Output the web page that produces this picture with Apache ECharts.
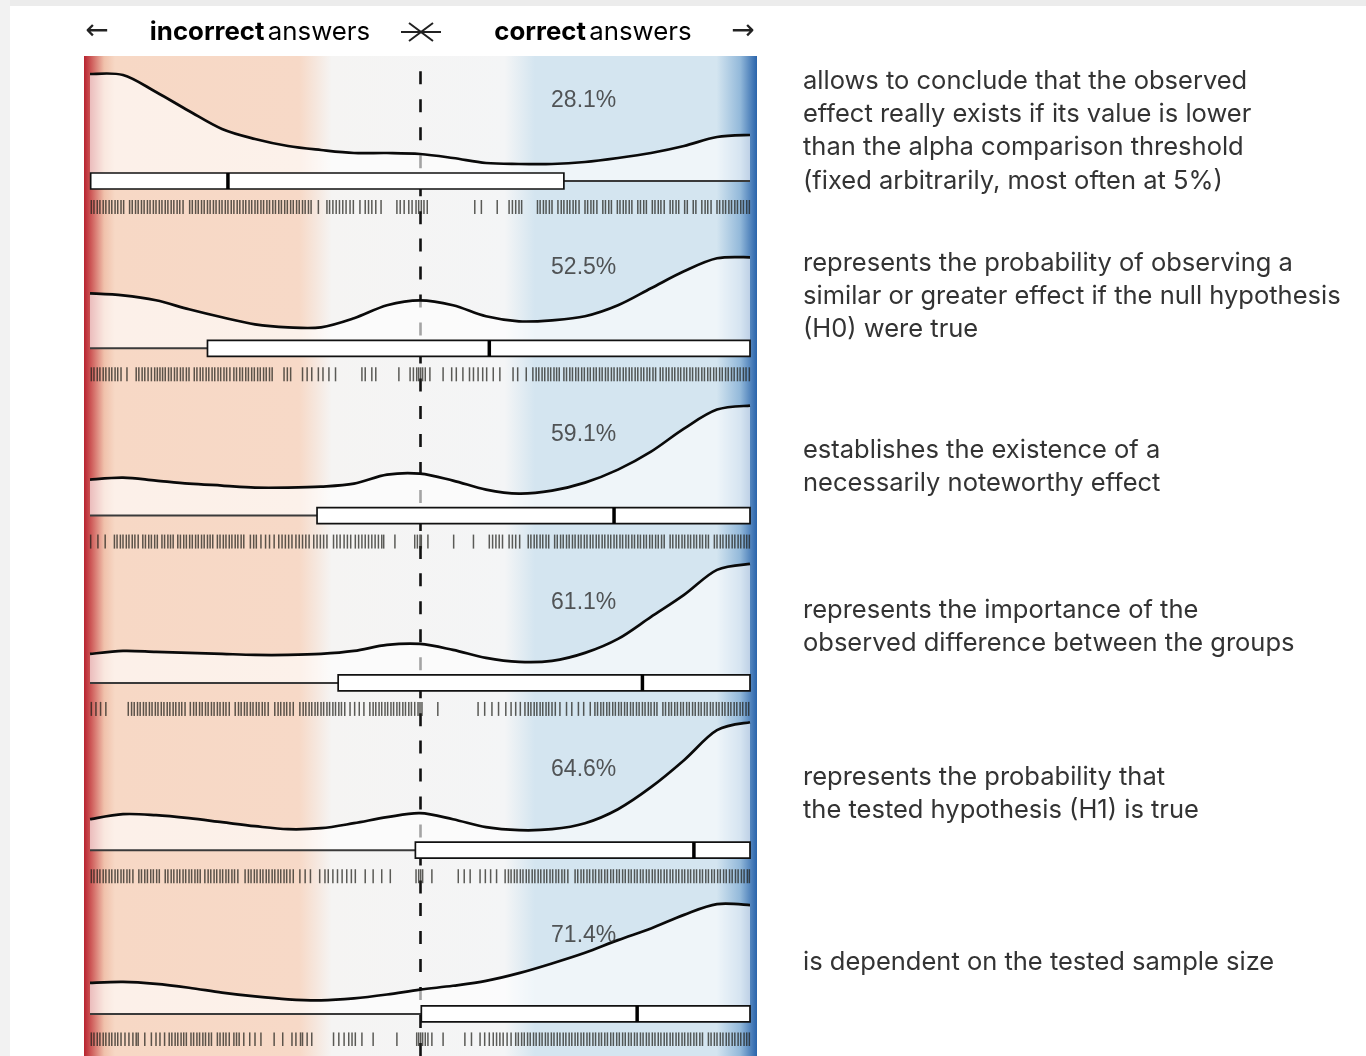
<!DOCTYPE html>
<html>
<head>
<meta charset="utf-8">
<script src="https://cdn.jsdelivr.net/npm/echarts@6/dist/echarts.min.js"></script>
<style>
  html, body { margin: 0; padding: 0; background: #fff; }
  #chart { width: 1366px; height: 1056px; }
</style>
</head>
<body>
<div id="chart"></div>
<script>
// positions along the answer scale (0 = far left / incorrect, 100 = far right / correct)
const densityX = [0, 5, 10, 15, 20, 25, 30, 35, 40, 45, 50, 55, 60, 65, 70, 75, 80, 85, 90, 95, 100];

// density heights, one array per statement
const density1 = [107, 106, 89, 70, 52, 42, 35, 31, 28, 28, 27, 23, 18, 17, 17, 19, 23, 28, 35, 44, 46];
const density2 = [55, 53, 48, 39, 31, 24, 21, 21, 30, 43, 48, 43, 32, 27, 28, 32, 43, 60, 77, 90, 91];
const density3 = [36, 38, 35, 32, 30, 28, 28, 29, 32, 41, 42, 35, 26, 22, 25, 33, 46, 64, 87, 106, 110];
const density4 = [29, 32, 31, 30, 29, 28, 28, 29, 32, 38, 39, 33, 25, 21, 22, 30, 44, 66, 88, 113, 119];
const density5 = [31, 36, 35, 32, 28, 24, 21, 22, 27, 33, 37, 31, 23, 20, 21, 27, 41, 63, 90, 120, 128];
const density6 = [32, 33, 31, 27, 22, 18, 15, 14, 16, 20, 25, 29, 34, 42, 52, 63, 76, 88, 102, 113, 112];

// box plot stats: [min, q1, median, q3, max]
const box1 = [0, 0.1, 20.9, 71.8, 100];
const box2 = [0, 17.8, 60.5, 100, 100];
const box3 = [0, 34.4, 79.4, 100, 100];
const box4 = [0, 37.6, 83.7, 100, 100];
const box5 = [0, 49.3, 91.5, 100, 100];
const box6 = [0, 50.2, 82.9, 100, 100];

// individual answers (rug)
const rug1 = [0.2,0.6,1.1,1.5,2.0,2.4,2.9,3.3,3.8,4.2,4.7,5.1,
  6.0,6.4,6.9,7.3,7.8,8.2,8.7,9.1,9.6,10.0,10.5,10.9,11.4,11.8,12.3,12.7,13.2,13.6,14.1,
  15.1,15.5,16.0,16.4,16.9,17.3,17.8,18.2,18.7,19.1,19.6,20.0,20.5,20.9,21.4,21.8,22.3,22.7,23.2,23.6,24.1,24.5,25.0,25.4,25.9,26.3,26.8,27.2,27.7,28.1,28.6,29.0,29.5,29.9,30.4,30.8,31.3,31.7,32.2,32.6,33.1,33.5,
  34.6,35.9,36.3,36.8,37.3,37.8,38.3,38.8,39.4,39.9,40.9,41.7,42.2,42.7,43.3,44.1,
  46.5,47.0,47.6,48.3,48.8,49.4,49.8,50.2,50.6,51.1,
  58.3,59.3,61.7,63.5,64.0,64.5,65.0,65.4,
  67.8,68.2,68.7,69.1,69.6,70.0,70.9,71.4,71.8,72.3,72.7,73.2,73.6,74.1,75.0,75.4,75.9,76.3,76.8,77.7,78.1,78.6,79.0,
  79.9,80.3,80.8,81.2,81.7,82.1,83.0,83.4,83.9,84.3,85.2,85.6,86.1,86.5,87.0,87.9,88.3,88.8,89.2,90.1,90.5,91.4,91.8,
  92.7,93.2,93.6,94.1,95.0,95.4,95.9,96.3,96.8,97.2,97.7,98.1,98.6,99.0,99.5,99.9];
const rug2 = [0.2,0.6,1.1,1.5,2.0,2.4,2.9,3.3,3.8,4.2,4.7,5.6,
  7.0,7.4,7.9,8.3,8.8,9.3,9.8,10.2,10.6,11.0,11.4,11.9,12.3,12.8,13.2,13.7,14.1,14.6,15.0,
  15.8,16.2,16.7,17.1,17.6,18.0,18.5,18.9,19.4,19.8,20.3,20.7,21.2,
  21.8,22.2,22.7,23.1,23.6,24.0,24.5,24.9,25.4,25.8,26.3,26.7,27.2,27.6,
  29.4,29.9,30.4,32.2,32.9,33.6,34.6,35.3,36.2,37.2,
  41.2,41.7,42.7,43.3,
  46.8,48.5,49.0,49.5,49.8,50.1,50.4,50.8,51.5,
  53.5,54.8,55.5,56.5,57.5,58.1,58.8,59.5,60.1,61.1,62.1,64.1,64.8,66.1,
  67.1,67.6,68.0,68.5,68.9,69.4,69.8,70.3,70.7,71.1,
  71.8,72.2,72.7,73.1,73.6,74.0,74.5,74.9,75.4,75.8,76.3,76.7,77.2,77.6,78.1,78.5,79.0,79.4,79.9,80.3,80.8,81.2,81.7,82.1,82.6,83.0,83.5,83.9,84.4,84.8,85.3,85.7,
  86.4,86.8,87.3,87.7,88.2,88.6,89.1,89.5,90.0,90.4,90.9,91.3,91.8,92.2,92.7,93.1,93.6,94.0,94.5,94.9,95.4,95.8,96.3,96.7,97.2,97.6,98.1,98.5,99.0,99.4,99.9];
const rug3 = [0.1,1.2,2.3,3.7,4.1,4.6,5.0,5.5,5.9,6.4,6.8,7.3,
  8.0,8.4,8.9,9.3,9.8,10.2,10.9,11.3,11.8,12.2,12.6,
  13.3,13.7,14.2,14.6,15.1,15.5,16.0,16.4,16.9,17.3,17.8,18.2,18.6,
  19.3,19.7,20.2,20.6,21.1,21.5,22.0,22.4,22.9,23.3,
  24.3,24.8,25.2,25.9,26.6,27.2,27.9,28.6,29.1,29.6,30.1,30.6,31.2,31.7,32.2,32.7,33.2,33.9,34.4,34.9,35.4,35.9,
  36.9,37.4,37.9,38.5,39.0,39.5,40.2,40.7,41.2,41.7,42.2,42.7,43.2,43.7,44.2,44.5,
  46.2,49.2,49.6,50.0,50.2,51.2,55.1,58.1,60.5,61.0,61.5,62.0,62.5,63.5,64.0,64.5,65.1,
  66.4,66.8,67.3,67.7,68.2,68.6,69.1,69.5,70.4,70.8,71.3,71.7,72.2,72.6,73.1,73.5,74.0,74.4,74.9,75.3,75.8,76.2,76.7,77.1,
  77.6,78.0,78.5,78.9,79.4,79.8,80.3,80.7,81.2,81.6,82.1,82.5,83.0,83.4,83.9,84.3,84.8,85.2,85.7,86.1,86.6,87.0,
  87.9,88.3,88.8,89.2,89.7,90.1,90.6,91.0,91.5,91.9,92.4,92.8,93.3,93.7,
  94.6,95.0,95.5,95.9,96.4,96.8,97.3,97.7,98.2,98.6,99.1,99.5,99.9];
const rug4 = [0.2,0.9,1.6,2.4,5.8,6.3,6.7,7.2,7.6,8.1,8.5,9.0,9.4,9.9,10.3,10.8,11.2,11.7,12.1,12.6,13.0,13.5,13.9,14.4,
  15.2,15.7,16.1,16.6,17.0,17.5,17.9,18.4,18.8,19.3,19.7,20.2,20.6,21.1,
  22.0,22.5,22.9,23.4,23.8,24.3,24.7,25.2,25.6,26.1,26.5,27.0,
  28.0,28.5,28.9,29.4,29.8,30.3,30.8,
  31.8,32.3,32.7,33.2,33.6,34.1,34.5,35.0,35.4,35.9,36.3,36.8,37.2,37.7,38.1,38.6,
  39.4,40.1,40.8,41.5,
  42.4,42.9,43.3,43.8,44.2,44.7,45.1,45.6,46.0,46.5,46.9,47.4,47.8,48.3,48.7,49.2,49.7,50.0,50.3,
  52.7,58.8,59.8,60.9,61.9,63.0,63.8,64.5,65.2,
  65.9,66.4,66.8,67.3,67.7,68.2,68.6,69.1,69.5,70.0,70.5,
  71.2,72.2,73.0,74.0,74.8,75.8,
  76.5,76.9,77.4,77.8,78.3,78.7,79.2,79.6,80.1,80.5,81.0,81.4,81.9,82.3,82.8,83.2,83.7,84.1,84.6,85.0,85.5,85.9,
  86.8,87.2,87.7,88.1,88.6,89.0,89.5,89.9,90.4,90.8,91.3,91.7,92.2,92.6,93.1,93.5,94.0,94.4,94.9,95.3,95.8,96.2,96.7,97.1,97.6,98.0,98.5,98.9,99.4,99.8];
const rug5 = [0.2,0.6,1.1,1.5,2.0,2.4,2.9,3.3,3.8,4.2,4.7,5.1,5.6,6.0,6.5,7.4,7.8,8.3,8.7,9.2,9.6,10.1,10.5,
  11.4,11.8,12.3,12.7,13.2,13.6,14.1,14.5,15.0,15.4,15.9,16.3,16.7,
  17.4,17.9,18.3,18.8,19.2,19.7,20.1,20.6,21.0,21.5,21.9,22.4,
  23.5,24.0,24.4,24.9,25.3,25.8,26.2,26.7,27.1,27.6,28.0,28.5,28.9,29.4,29.8,30.3,30.8,
  31.8,32.6,33.4,34.8,35.6,36.1,36.8,37.5,38.2,38.9,39.6,40.2,
  41.7,42.9,44.2,45.5,49.4,49.8,50.1,50.4,51.8,
  55.8,56.7,57.6,59.1,59.9,60.7,61.6,
  62.9,63.4,63.8,64.3,64.7,65.2,65.6,66.1,66.5,67.0,67.4,67.9,68.3,68.8,69.2,69.7,70.1,70.6,71.0,71.5,71.9,72.4,
  73.5,73.9,74.4,74.8,75.3,75.7,76.2,76.6,77.1,77.5,78.0,78.4,78.9,79.3,79.8,80.2,80.7,81.1,81.6,82.0,82.5,82.9,
  83.4,83.8,84.3,84.7,85.2,85.6,86.1,86.5,87.0,87.4,87.9,88.3,88.8,89.2,89.7,90.1,90.6,91.0,91.5,91.9,92.4,92.8,
  93.3,93.7,94.2,94.6,95.1,95.5,96.0,96.4,96.9,97.3,97.8,98.2,98.7,99.1,99.6,99.9];
const rug6 = [0.2,0.6,1.1,1.5,2.0,2.4,2.9,3.3,3.8,4.2,4.7,
  5.3,5.9,6.5,7.0,7.3,8.3,9.3,10.0,10.6,11.3,
  12.0,12.4,12.9,13.3,13.8,14.2,14.6,
  15.3,15.7,16.2,16.6,17.1,17.5,18.0,18.4,19.3,19.7,20.2,20.6,21.1,21.8,22.2,22.6,
  23.3,24.2,25.0,25.9,27.9,29.2,30.6,31.2,31.9,32.2,32.9,33.6,
  36.9,37.7,38.5,39.2,39.7,40.2,41.2,42.9,46.5,
  49.5,49.8,50.1,50.4,50.8,51.2,51.8,53.5,56.8,57.8,59.1,59.8,60.5,
  61.1,61.6,62.1,62.6,63.2,63.8,
  64.5,64.9,65.4,65.8,66.3,66.7,67.2,67.6,68.1,68.5,69.0,69.4,69.9,70.3,70.8,71.2,71.7,72.1,72.6,73.0,73.5,73.9,
  74.4,74.8,75.3,75.7,76.2,76.6,77.1,77.5,78.0,78.4,78.9,79.3,79.8,80.2,80.7,81.1,81.6,82.0,82.5,82.9,83.4,83.8,
  84.3,84.7,85.2,85.6,86.1,86.5,87.0,87.4,87.9,88.3,88.8,89.2,89.7,90.1,90.6,91.0,91.5,91.9,92.4,92.8,
  93.7,94.1,94.6,95.0,95.5,95.9,96.4,96.8,97.3,97.7,98.2,98.6,99.1,99.5,99.9];

// share of correct answers per statement
const percentLabels = ['28.1%', '52.5%', '59.1%', '61.1%', '64.6%', '71.4%'];

// statements (one line per entry)
const statements = [
    ['allows to conclude that the observed', 'effect really exists if its value is lower', 'than the alpha comparison threshold', '(fixed arbitrarily, most often at 5%)'],
    ['represents the probability of observing a', 'similar or greater effect if the null hypothesis', '(H0) were true'],
    ['establishes the existence of a', 'necessarily noteworthy effect'],
    ['represents the importance of the', 'observed difference between the groups'],
    ['represents the probability that', 'the tested hypothesis (H1) is true'],
    ['is dependent on the tested sample size']
];

const densities = [density1, density2, density3, density4, density5, density6];
const boxes = [box1, box2, box3, box4, box5, box6];
const rugs = [rug1, rug2, rug3, rug4, rug5, rug6];

// 布局
const ROW_TOP = 57;
const ROW_H = 167.3;
const PLOT_LEFT = 90;
const PLOT_W = 660;
const statementFirstLine = [81, 263, 450, 610, 777, 962];
const LINE_H = 33.4;
const TEXT_FONT = 'Inter';

// 平滑曲线路径 (Catmull-Rom -> Bezier), points already mapped by the axes
function splinePath(pts) {
    let d = 'M' + pts[0][0] + ',' + pts[0][1];
    for (let k = 0; k < pts.length - 1; k++) {
        const p0 = pts[k - 1] || pts[k];
        const p1 = pts[k];
        const p2 = pts[k + 1];
        const p3 = pts[k + 2] || p2;
        const c1x = p1[0] + (p2[0] - p0[0]) / 6, c1y = p1[1] + (p2[1] - p0[1]) / 6;
        const c2x = p2[0] - (p3[0] - p1[0]) / 6, c2y = p2[1] - (p3[1] - p1[1]) / 6;
        d += ' C' + c1x + ',' + c1y + ' ' + c2x + ',' + c2y + ' ' + p2[0] + ',' + p2[1];
    }
    return d;
}

const chart = echarts.init(document.getElementById('chart'));

const grids = [], xAxes = [], yAxes = [], series = [];

densities.forEach((dens, i) => {
    grids.push({ left: PLOT_LEFT, width: PLOT_W, top: ROW_TOP + i * ROW_H, height: ROW_H });
    xAxes.push({ gridIndex: i, type: 'value', min: 0, max: 100, show: false });
    yAxes.push({ gridIndex: i, type: 'value', min: -43.3, max: 124, show: false });

    // rug + center dashed line
    series.push({
        type: 'custom',
        xAxisIndex: i, yAxisIndex: i,
        z: 2,
        silent: true,
        encode: { x: 0 },
        data: rugs[i].map(v => [v]),
        renderItem: (params, api) => {
            const p1 = api.coord([api.value(0), -19]);
            const p2 = api.coord([api.value(0), -33]);
            return {
                type: 'line',
                shape: { x1: p1[0], y1: p1[1], x2: p2[0], y2: p2[1] },
                style: { stroke: 'rgba(30,30,25,0.72)', lineWidth: 1.5 }
            };
        },
        markLine: {
            z: 1,
            silent: true,
            symbol: 'none',
            label: { show: false },
            lineStyle: { color: '#111', type: [13, 15], width: 2.6 },
            data: [{ xAxis: 50 }]
        }
    });

    // density curve with whitened area
    series.push({
        type: 'custom',
        xAxisIndex: i, yAxisIndex: i,
        z: 3,
        silent: true,
        encode: { x: 0, y: 1 },
        data: densityX.map((x, j) => [x, dens[j]]),
        renderItem: (params, api) => {
            if (params.dataIndex !== 0) return null;
            const pts = densityX.map((x, j) => api.coord([x, dens[j]]));
            const base0 = api.coord([densityX[0], 0]);
            const base1 = api.coord([densityX[densityX.length - 1], 0]);
            const curve = splinePath(pts);
            return {
                type: 'group',
                children: [
                    { type: 'path', shape: { pathData: curve + ' L' + base1[0] + ',' + base1[1] + ' L' + base0[0] + ',' + base0[1] + ' Z' },
                      style: { fill: 'rgba(255,255,255,0.62)', stroke: null } },
                    { type: 'path', shape: { pathData: curve },
                      style: { fill: null, stroke: '#0a0a0a', lineWidth: 2.7, lineJoin: 'round' } }
                ]
            };
        }
    });

    // box plot
    series.push({
        type: 'custom',
        xAxisIndex: i, yAxisIndex: i,
        z: 4,
        silent: true,
        encode: { x: [0, 4] },
        data: [boxes[i]],
        renderItem: (params, api) => {
            const pMin = api.coord([api.value(0), 0]);
            const pQ1 = api.coord([api.value(1), 0]);
            const pMed = api.coord([api.value(2), 0]);
            const pQ3 = api.coord([api.value(3), 0]);
            const pMax = api.coord([api.value(4), 0]);
            const h = 8;
            const children = [];
            if (pQ1[0] - pMin[0] > 1) {
                children.push({ type: 'line', shape: { x1: pMin[0], y1: pMin[1], x2: pQ1[0], y2: pQ1[1] },
                    style: { stroke: '#3a3a3a', lineWidth: 2 } });
            }
            if (pMax[0] - pQ3[0] > 1) {
                children.push({ type: 'line', shape: { x1: pQ3[0], y1: pQ3[1], x2: pMax[0], y2: pMax[1] },
                    style: { stroke: '#3a3a3a', lineWidth: 2 } });
            }
            children.push({ type: 'rect', shape: { x: pQ1[0], y: pQ1[1] - h, width: pQ3[0] - pQ1[0], height: 2 * h },
                style: { fill: '#fff', stroke: '#111', lineWidth: 1.7 } });
            children.push({ type: 'line', shape: { x1: pMed[0], y1: pMed[1] - h, x2: pMed[0], y2: pMed[1] + h },
                style: { stroke: '#000', lineWidth: 3.5 } });
            return { type: 'group', children };
        }
    });

    // percentage label
    series.push({
        type: 'scatter',
        xAxisIndex: i, yAxisIndex: i,
        z: 5,
        silent: true,
        symbolSize: 0,
        data: [[74.8, 80.5]],
        label: {
            show: true,
            position: 'inside',
            formatter: percentLabels[i],
            color: '#2e2e2e',
            fontSize: 23,
            fontFamily: 'Liberation Sans'
        }
    });
});

// background gradient + header + statements
const headerRich = {
    b: { fontSize: 25.8, fontWeight: 'bold', fontFamily: TEXT_FONT, color: '#1a1a1a' },
    r: { fontSize: 25.8, fontFamily: TEXT_FONT, color: '#555' }
};
const graphics = [
    { type: 'rect', z: -10, shape: { x: 0, y: 0, width: 1366, height: 6 }, style: { fill: '#ececec' } },
    { type: 'rect', z: -10, shape: { x: 0, y: 0, width: 10, height: 1056 }, style: { fill: '#f2f2f2' } },
    {
        type: 'rect', z: -5,
        shape: { x: 84, y: 56, width: 673, height: 1000 },
        style: {
            fill: new echarts.graphic.LinearGradient(0, 0, 1, 0, [
                { offset: 0, color: '#b8232f' },
                { offset: 0.012, color: '#d0615e' },
                { offset: 0.03, color: '#f0c1ab' },
                { offset: 0.046, color: '#f7d8c5' },
                { offset: 0.32, color: '#f7d9c7' },
                { offset: 0.368, color: '#f5f4f3' },
                { offset: 0.625, color: '#f4f5f6' },
                { offset: 0.67, color: '#d4e5f0' },
                { offset: 0.94, color: '#d4e5f0' },
                { offset: 0.975, color: '#93b9da' },
                { offset: 1, color: '#2a64ab' }
            ])
        }
    },
    { type: 'text', style: { text: '←', x: 97, y: 32, align: 'center', verticalAlign: 'middle',
        fontSize: 28, fontFamily: 'DejaVu Sans', fill: '#222' } },
    { type: 'text', style: { text: '→', x: 743, y: 32, align: 'center', verticalAlign: 'middle',
        fontSize: 28, fontFamily: 'DejaVu Sans', fill: '#222' } },
    { type: 'text', style: { text: '{b|incorrect} {r|answers}', x: 260, y: 32, align: 'center',
        verticalAlign: 'middle', rich: headerRich } },
    { type: 'text', style: { text: '{b|correct} {r|answers}', x: 593, y: 32, align: 'center',
        verticalAlign: 'middle', rich: headerRich } },
    { type: 'polyline', shape: { points: [[401, 32], [441, 32]] }, style: { stroke: '#222', lineWidth: 2 } },
    { type: 'polyline', shape: { points: [[409, 23], [421, 32], [409, 41]] }, style: { stroke: '#222', lineWidth: 2, fill: null } },
    { type: 'polyline', shape: { points: [[433, 23], [421, 32], [433, 41]] }, style: { stroke: '#222', lineWidth: 2, fill: null } }
];

statements.forEach((lines, i) => {
    lines.forEach((line, k) => {
        graphics.push({
            type: 'text',
            style: {
                text: line, x: 803, y: statementFirstLine[i] + k * LINE_H,
                verticalAlign: 'middle', fontSize: 25.5, fontFamily: TEXT_FONT, fill: '#333'
            }
        });
    });
});

chart.setOption({
    animation: false,
    backgroundColor: '#fff',
    grid: grids,
    xAxis: xAxes,
    yAxis: yAxes,
    graphic: graphics,
    series
});
</script>
</body>
</html>
